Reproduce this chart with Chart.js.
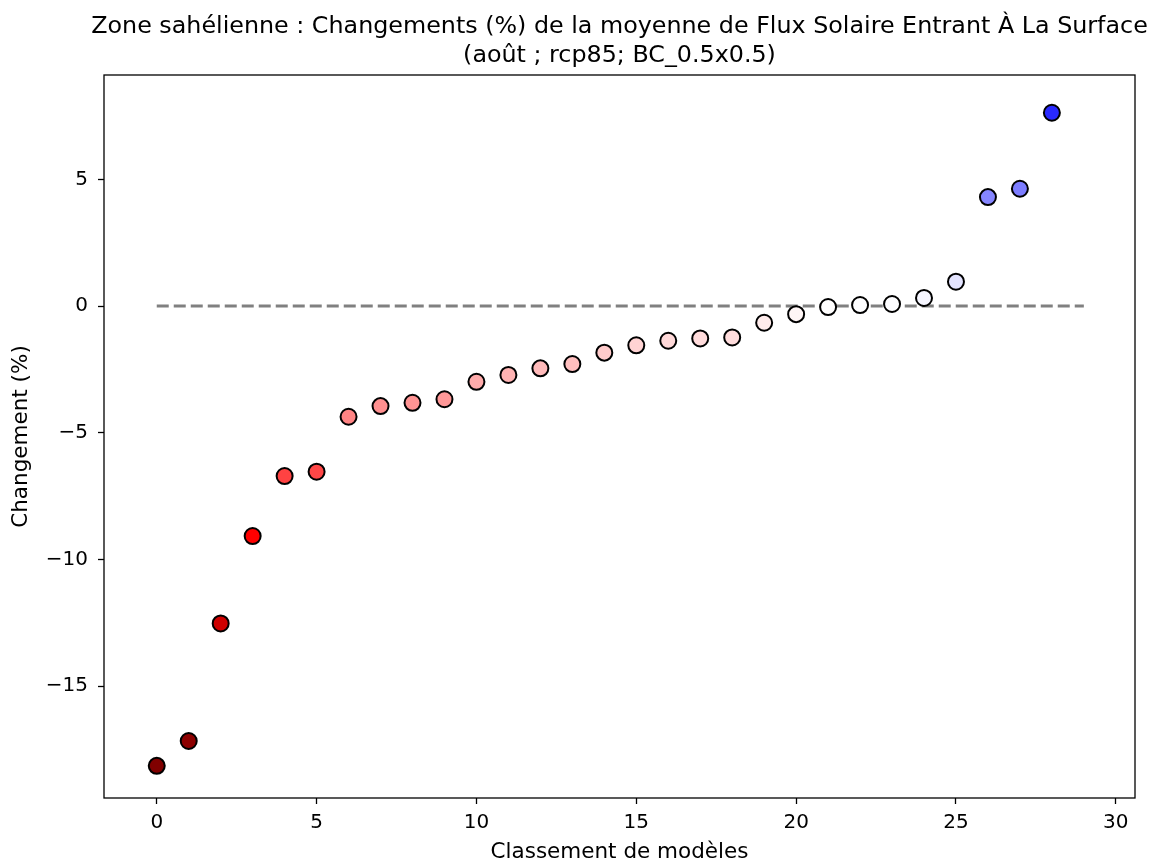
<!DOCTYPE html>
<html>
<head>
<meta charset="utf-8">
<script src="https://cdn.jsdelivr.net/npm/chart.js@4.4.1/dist/chart.umd.min.js"></script>
<style>
  html, body { margin: 0; padding: 0; background: #fff; }
  canvas { display: block; }
</style>
</head>
<body>
<canvas id="rankChart" width="1154" height="863"></canvas>
<script>
// model rank (x) and change in % (y)
const modelRanks = [0, 1, 2, 3, 4, 5, 6, 7, 8, 9, 10, 11, 12, 13, 14, 15, 16, 17, 18, 19, 20, 21, 22, 23, 24, 25, 26, 27, 28];
const changes = [-18.15, -17.17, -12.53, -9.08, -6.71, -6.54, -4.37, -3.95, -3.82, -3.68,
                 -2.99, -2.72, -2.46, -2.29, -1.84, -1.55, -1.37, -1.28, -1.24, -0.66,
                 -0.32, -0.04, 0.04, 0.08, 0.32, 0.96, 4.30, 4.63, 7.63];
const zeroLineX = [0, 29];
const xTickValues = [0, 5, 10, 15, 20, 25, 30];
const yTickValues = [-15, -10, -5, 0, 5];

const titleLines = [
    'Zone sahélienne : Changements (%) de la moyenne de Flux Solaire Entrant À La Surface',
    '(août ; rcp85; BC_0.5x0.5)'
];
const xLabel = 'Classement de modèles';
const yLabel = 'Changement (%)';

// seismic_r colormap, centred on 0
function seismicR(v, vmax) {
    let t = 1 - (v + vmax) / (2 * vmax);
    t = Math.max(0, Math.min(1, t));
    const seg = (pts) => {
        for (let i = 1; i < pts.length; i++) {
            if (t <= pts[i][0]) {
                const [x0, y0] = pts[i - 1], [x1, y1] = pts[i];
                return y0 + (y1 - y0) * (t - x0) / (x1 - x0);
            }
        }
        return pts[pts.length - 1][1];
    };
    const r = seg([[0, 0], [0.25, 0], [0.5, 1], [0.75, 1], [1, 0.5]]);
    const g = seg([[0, 0], [0.25, 0], [0.5, 1], [0.75, 0], [1, 0]]);
    const b = seg([[0, 0.3], [0.25, 1], [0.5, 1], [0.75, 0], [1, 0]]);
    return `rgb(${Math.round(r * 255)}, ${Math.round(g * 255)}, ${Math.round(b * 255)})`;
}

const vmax = Math.max(...changes.map(Math.abs));
const pointColors = changes.map(v => seismicR(v, vmax));

const FONT = 'DejaVu Sans';
const minus = (v) => String(v).replace('-', '\u2212');

// frame round the plot + title centred over the axes (like matplotlib)
const framePlugin = {
    id: 'frame',
    afterDatasetsDraw(chart) {
        const { ctx, chartArea: a } = chart;
        ctx.save();
        ctx.strokeStyle = '#000';
        ctx.lineWidth = 1.3;
        ctx.strokeRect(a.left, a.top, a.right - a.left, a.bottom - a.top);

        ctx.fillStyle = '#000';
        ctx.font = `23.8px "${FONT}"`;
        ctx.textAlign = 'center';
        ctx.textBaseline = 'alphabetic';
        const cx = (a.left + a.right) / 2;
        titleLines.forEach((line, i) => ctx.fillText(line, cx, 33 + i * 29));
        ctx.restore();
    }
};

const ctx = document.getElementById('rankChart').getContext('2d');
new Chart(ctx, {
    type: 'scatter',
    data: {
        datasets: [
            {
                label: 'changes',
                data: modelRanks.map((x, i) => ({ x: x, y: changes[i] })),
                backgroundColor: pointColors,
                borderColor: '#000',
                borderWidth: 2,
                pointRadius: 8,
                pointHoverRadius: 8,
                order: 0,
            },
            {
                type: 'line',
                label: 'zero',
                data: zeroLineX.map(x => ({ x: x, y: 0 })),
                borderColor: '#808080',
                borderWidth: 3,
                borderDash: [12, 5],
                pointRadius: 0,
                fill: false,
                order: 1,
            },
        ],
    },
    options: {
        responsive: false,
        animation: false,
        layout: { padding: { left: 0, right: 19, top: 75, bottom: 0 } },
        plugins: {
            legend: { display: false },
            tooltip: { enabled: false },
            title: { display: false },
        },
        scales: {
            x: {
                type: 'linear',
                min: -1.65,
                max: 30.6,
                afterBuildTicks: (scale) => { scale.ticks = xTickValues.map(v => ({ value: v })); },
                afterFit: (scale) => { scale.height = 65; },
                border: { display: false },
                grid: { drawOnChartArea: false, drawTicks: true, tickLength: 6, tickColor: '#000', tickWidth: 1.3 },
                ticks: {
                    color: '#000',
                    padding: 7,
                    maxRotation: 0,
                    font: { family: FONT, size: 20 },
                    callback: (v) => minus(v),
                },
                title: {
                    display: true,
                    text: xLabel,
                    color: '#000',
                    font: { family: FONT, size: 21.5, lineHeight: 1.0 },
                    padding: { top: 0, bottom: 0 },
                },
            },
            y: {
                type: 'linear',
                min: -19.42,
                max: 9.12,
                afterBuildTicks: (scale) => { scale.ticks = yTickValues.map(v => ({ value: v })); },
                afterFit: (scale) => { scale.width = 104; },
                border: { display: false },
                grid: { drawOnChartArea: false, drawTicks: true, tickLength: 6, tickColor: '#000', tickWidth: 1.3 },
                ticks: {
                    color: '#000',
                    padding: 10,
                    font: { family: FONT, size: 20 },
                    callback: (v) => minus(v),
                },
                title: {
                    display: true,
                    text: yLabel,
                    color: '#000',
                    font: { family: FONT, size: 21.5, lineHeight: 1.0 },
                    padding: { top: 11, bottom: 0 },
                },
            },
        },
    },
    plugins: [framePlugin],
});
</script>
</body>
</html>
